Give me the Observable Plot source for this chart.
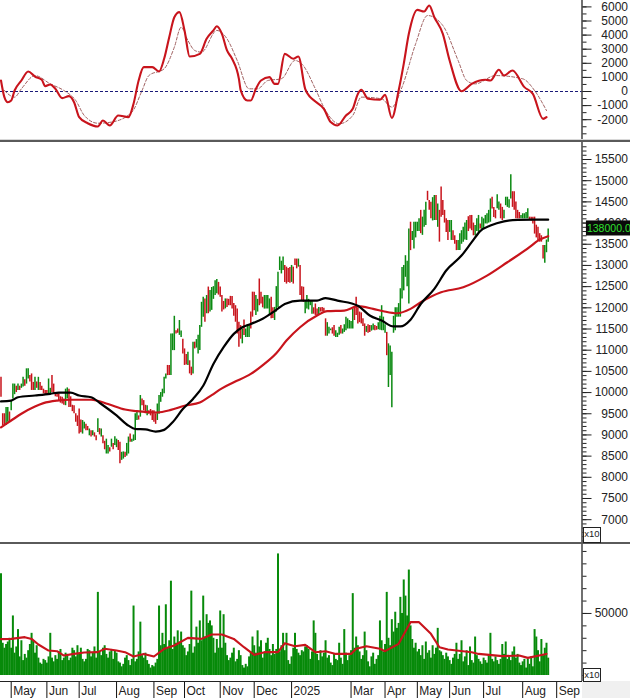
<!DOCTYPE html>
<html>
<head>
<meta charset="utf-8">
<script src="https://cdn.jsdelivr.net/npm/d3@7"></script>
<script src="https://cdn.jsdelivr.net/npm/@observablehq/plot@0.6"></script>
<style>
html,body{margin:0;padding:0;background:#fff;overflow:hidden}
#chart{position:relative;width:630px;height:698px;background:#fff;font-family:"Liberation Sans",Arial,sans-serif;overflow:hidden}
#chart svg{position:absolute;left:0;display:block;overflow:visible;background:transparent}
.sep{position:absolute;left:0;width:630px;background:#5a5a5a}
.x10{position:absolute;box-sizing:border-box;border:1px solid #222;background:#fff;font-size:9.5px;line-height:12px;text-align:center;color:#222}
#corner{position:absolute;left:582px;top:681px;width:48px;height:17px;background:#f0f0f0}
</style>
</head>
<body>
<div id="chart"></div>
<script>
const dirs = ("RRRGGRGGGR GRGGRGGRRR GRGRRRRRGG RRRRRRRRGG RRRRRRRRGG RRGRGRRGRG RRGGRGRGGR RGGRGGRGGG GRGRRRGRRR RRGGGGGGRR " +
"GGGRRGGRRR GRRGRGGGGG RGRGGGGGRR RRGRRRRRRR RRGRGGGRRR GGRRRGGGGR RGGGGGGRRR RGRRRGRRRG GGGGRRRGRR RRGGGRRGGG " +
"RGGGGGGGRR RRRRRGRRGG RRGGGGGRGG GGGGGGGGGG GRGGGGGRGG GRRRGGRGRR RRRRGGRRRG GGGGGRRRRG GGRGGGGGGR RRGGRRGGGG " +
"GRRRRRGGGG GRRRRRRRRR GGG").replace(/ /g,"").split("");
const highs = [10360,9500,9500,9650,9650,9540,9810,10200,10200,10150,
10200,10150,10200,10360,10300,10560,10560,10400,10440,10240,
10360,10250,10360,10240,10150,10080,10050,10050,10320,10100,
10400,10200,10000,10000,9970,9900,9890,9850,10080,10110,
10080,9900,9700,9690,9500,9450,9610,9350,9340,9300,
9250,9200,9140,9100,9100,9050,8980,9380,9150,9140,
8980,8850,8900,8750,8700,8900,8800,8960,8900,8870,
8830,8590,8600,8590,8800,8950,9020,8900,9000,9500,
9530,9450,9930,9850,9810,9700,9690,9570,9600,9570,
9570,9500,9730,9930,10000,10080,10360,10440,10640,10640,
11385,11385,11800,11460,11500,11700,11450,11260,11030,10900,
10950,10750,10600,11190,11190,11250,11350,11580,12130,12250,
12210,12290,12490,12410,12480,12500,12640,12670,12600,12490,
12290,12150,12210,12210,12200,12270,12270,12100,12050,11975,
11660,11580,11500,11715,11500,11600,11580,11900,12370,12370,
12290,12200,12680,12370,12250,12290,12290,12290,12210,12250,
12000,12010,12500,12840,13200,13100,13200,13000,12960,12930,
12950,13000,12960,13150,13150,13150,13000,12500,12486,12170,
12290,12200,12170,12170,12000,12090,11970,12010,12000,12010,
11990,11740,11650,11540,11500,11530,11580,11460,11400,11540,
11580,11500,11600,11780,11740,11700,11680,11970,12000,12250,
12000,11900,11880,11740,11620,11560,11600,11580,11580,11620,
11580,11560,11650,11800,12050,11780,11600,11420,11150,11100,
10950,11800,12000,12000,12100,12450,12950,13000,13230,13100,
13860,14020,13800,14020,14020,14020,14100,14300,14140,14300,
14490,14750,14530,14490,14600,14650,14650,14450,14300,14850,
14530,14300,14100,14060,14060,14060,13820,13700,13590,13590,
13750,13820,13900,14000,14060,14150,14180,14180,14000,13940,
14100,14180,13980,14140,14100,14180,14220,14300,14570,14610,
14370,14300,14670,14500,14450,14370,14300,14610,14610,14550,
15140,14740,14740,14500,14300,14250,14180,14220,14220,14250,
14335,14140,14140,14140,14140,13950,13900,13750,13700,13470,
13470,13600,13860];
const lows = [9890,9220,9220,9220,9300,9300,9570,9850,9950,10000,
10050,10050,10100,10130,10150,10200,10320,10250,10050,10050,
10050,10100,10050,10050,10050,9970,9950,9950,9970,9970,
10000,9970,9900,9890,9810,9750,9730,9700,9690,9850,
9650,9650,9550,9500,9300,9200,9020,9050,9020,9140,
9100,9100,8980,8950,8980,8950,8860,9060,9000,8950,
8790,8650,8550,8550,8600,8710,8650,8750,8700,8630,
8320,8400,8430,8470,8500,8550,8830,8830,8850,8870,
9340,9350,9420,9690,9570,9500,9450,9490,9450,9340,
9300,9250,9340,9490,9770,9890,9970,10320,10400,10400,
10400,10990,10990,11385,11400,11350,11300,10910,10640,10650,
10640,10440,10400,10440,11030,11050,10910,10990,11540,11780,
11660,11860,11860,11900,11940,12200,12290,12330,12300,12250,
11900,11950,11975,12010,12050,12050,11975,11800,11660,11385,
11070,11260,11150,11345,11300,11300,11300,11500,11780,11930,
11820,11900,12050,12090,12000,11970,11970,11970,11820,11740,
11750,11700,11900,12010,12880,12800,12880,12600,12560,12600,
12580,12600,12560,13000,12920,12960,12290,12150,12130,11860,
11970,11950,12050,11850,11850,11820,11820,11820,11900,11900,
11890,11330,11330,11380,11460,11380,11330,11300,11300,11350,
11380,11380,11420,11460,11500,11500,11500,11500,11700,11820,
11620,11650,11620,11560,11330,11420,11400,11420,11450,11470,
11460,11470,11480,11470,11460,11460,11400,10870,10120,10400,
9640,11400,11460,11780,11780,11780,12210,12400,12720,12500,
12090,13350,13590,13390,13650,13800,13800,13750,13710,13900,
13940,14530,14300,14100,14050,14060,14060,13900,13550,14140,
14180,14000,13780,13590,13780,13590,13590,13500,13350,13350,
13350,13500,13550,13600,13590,13800,13860,13820,13700,13700,
13800,13780,13860,13820,13850,13980,13980,14000,14020,14330,
14130,14100,14335,14300,14100,14060,14100,14410,14370,14350,
14570,14370,14300,14100,14100,14100,14100,14100,14100,14100,
14100,14060,14050,13980,13740,13650,13590,13550,13550,13150,
13050,13300,13550];
const volumesK = [82,26,22,25,27,30,22,48,18,23,
37,15,28,12,17,14,20,25,34,28,
18,24,14,10,9,13,12,10,15,34,
14,11,16,13,19,21,12,14,18,17,
12,14,22,20,15,24,17,22,13,11,
13,21,20,15,18,23,14,67,19,16,
22,24,17,14,19,21,13,20,18,11,
10,7,9,14,16,12,8,13,56,11,
13,19,43,16,14,18,12,9,6,8,
7,10,13,56,24,34,25,57,22,28,
76,21,31,26,36,27,35,24,22,16,
19,25,68,18,23,39,26,44,28,64,
31,49,42,44,40,30,18,29,22,52,
22,49,26,16,12,14,18,22,11,13,
20,16,8,6,9,7,15,19,31,24,
18,36,23,28,14,18,26,30,21,16,
25,17,21,98,19,24,34,20,34,12,
9,15,22,34,21,18,16,20,19,23,
24,21,13,19,44,34,17,12,20,15,
18,28,14,16,10,8,17,13,12,26,
14,9,37,18,12,16,20,66,22,31,
24,19,13,16,35,20,11,7,15,18,
9,13,16,44,28,19,25,67,30,24,
45,35,51,38,42,63,50,77,64,48,
85,40,29,22,26,19,21,16,24,13,
27,18,20,14,24,17,22,38,20,19,
16,13,18,15,12,9,14,17,26,13,
17,28,11,15,20,8,23,12,10,31,
16,13,11,9,14,12,10,16,34,13,
11,15,12,9,13,25,17,27,13,15,
12,19,23,14,17,10,8,11,13,6,
13,9,15,7,37,31,20,11,29,16,
22,26,14];
const macdIdx = [0,2,4,6,8,12,16,20,24,26,29,32,36,40,43,46,51,57,60,64,69,75,78,81,84,89,93,96,99,102,105,108,111,117,121,125,127,130,133,136,140,141,145,147,150,153,158,161,163,167,172,175,179,182,185,190,194,198,203,207,210,212,216,223,226,230,234,237,240,245,249,252,255,260,264,271,277,285,288,293,296,301,308,313,319,321];
const macdVal = [780,-400,-760,-640,70,780,1420,1060,830,380,500,190,-470,-330,-760,-1820,-2250,-2480,-2060,-2410,-1700,-1820,-870,780,1730,1730,1420,2320,3850,5270,5630,4330,2480,2670,3740,4330,4630,4090,2910,2320,900,120,-640,-640,190,780,1020,540,540,2670,2320,2480,190,-400,-710,-1230,-2170,-2410,-1700,-1230,-170,120,-520,-590,-240,-1870,70,1960,4090,5790,5670,6100,5270,4090,2200,20,540,830,780,1540,1130,1490,310,-170,-1940,-1820];
const signalIdx = [2,8,12,20,29,37,44,49,57,65,77,83,87,96,102,106,110,114,118,127,133,139,146,151,157,165,173,177,185,191,199,207,212,224,230,236,244,251,260,269,274,279,291,307,314,321];
const signalVal = [70,-400,190,1130,540,70,-640,-1700,-2250,-2170,-1470,70,1130,1610,3140,4560,3620,2910,2790,4330,3740,2200,190,190,780,900,2200,1960,190,-1350,-2290,-1700,-400,-520,-1110,310,3380,5390,4680,2200,780,540,1130,900,70,-1350];
const blackIdx = [0,6,10,20,29,34,41,46,53,59,68,75,79,85,91,96,101,107,113,119,125,131,137,142,147,154,162,167,176,186,191,198,210,217,224,231,235,241,247,255,262,271,277,282,288,296,304,313,322];
const blackVal = [9790,9810,9890,9930,9970,10000,10000,9930,9890,9730,9460,9220,9140,9130,9080,9120,9300,9610,9850,10160,10676,11070,11385,11540,11620,11740,11950,12090,12170,12170,12230,12170,12050,11820,11700,11560,11560,11720,12090,12446,12880,13233,13550,13810,13940,14040,14075,14080,14080];
const redIdx = [0,6,12,20,25,33,41,53,63,73,80,92,100,108,117,124,130,137,147,155,162,168,176,186,192,202,210,219,225,233,241,247,259,272,286,298,311,316,322];
const redVal = [9180,9340,9500,9670,9750,9810,9830,9830,9730,9600,9560,9530,9590,9690,9765,9940,10100,10243,10440,10676,10928,11227,11542,11817,11920,11935,12038,11975,11920,11872,11975,12131,12367,12485,12760,13076,13430,13587,13690];
const volMaIdx = [0,6,14,18,22,28,33,37,43,49,57,61,68,73,78,84,90,96,102,110,118,124,130,137,143,149,155,163,167,173,179,185,191,197,206,209,215,223,226,234,241,246,253,258,263,277,281,295,305,310,321];
const volMaVal = [29.3,29.5,30.9,29.5,25,20.1,19.6,16.1,17.4,18.5,18.8,21.5,20.1,18.8,15.3,17.4,15.3,21.5,24.2,30.3,29.5,33,33,29.5,22.8,16.6,18.8,18.8,26,23.6,24.7,18.8,19.6,17.4,17.4,21.5,23.6,21.5,19.6,25.5,43,43,33.6,22.8,20.9,18.8,17.4,15.6,16.1,14.2,17.4];
const monthIdx = [6,27,46,68,90,108,129,149,171,206,226,245,264,284,307,327];
const monthLabels = ["May","Jun","Jul","Aug","Sep","Oct","Nov","Dec","2025","Mar","Apr","May","Jun","Jul","Aug","Sep"];
const macdTicks = [6000,5000,4000,3000,2000,1000,0,-1000,-2000];
const priceTicks = [15500,15000,14500,14000,13500,13000,12500,12000,11500,11000,10500,10000,9500,9000,8500,8000,7500,7000];
const volTicks = [50];
const lastCloseLabel = "138000.0";
const lastCloseY = 13800;

const xDomain = [-0.29, 341.9];
const green = "#0b8a12", red = "#c8141c", volGreen = "#078a0a";
const FONT = '"Liberation Sans",Arial,sans-serif';
const chart = document.getElementById("chart");
const idx = d3.range(highs.length);
const pairs = (a,b) => a.map((x,i)=>({x, y:b[i]}));

function panel(top, height, yDomain, marks){
  const svg = Plot.plot({
    width:630, height, marginLeft:0, marginRight:48.5, marginTop:0, marginBottom:0,
    style:{fontFamily:FONT, fontSize:"12px", color:"#222", background:"transparent", overflow:"visible"},
    x:{domain:xDomain, axis:null},
    y:{domain:yDomain, axis:null},
    marks
  });
  svg.style.top = top+"px";
  chart.appendChild(svg);
}
function rightAxis(major, minor, fmt){
  return [
    Plot.ruleX([xDomain[1]],{stroke:"#111",strokeWidth:1.2}),
    Plot.axisY(minor,{anchor:"right",tickSize:4,tickFormat:()=>"",stroke:"#222",label:null}),
    Plot.axisY(major,{anchor:"right",tickSize:9,tickPadding:37,textAnchor:"end",tickFormat:fmt,fontSize:12,fill:"#222",stroke:"#222",label:null})
  ];
}

// MACD panel
panel(0,140,[-3475,6454],[
  Plot.ruleY([0],{stroke:"#1a1a78",strokeWidth:1,strokeDasharray:"3,2"}),
  Plot.line(pairs(signalIdx,signalVal),{x:"x",y:"y",stroke:"#a06060",strokeWidth:1,strokeDasharray:"3,2",curve:"monotone-x"}),
  Plot.line(pairs(macdIdx,macdVal),{x:"x",y:"y",stroke:red,strokeWidth:2.1,curve:"monotone-x"}),
  ...rightAxis(macdTicks,d3.range(-3000,6500,500),d=>String(d))
]);

// price panel
panel(141,402,[6438,15925],[
  Plot.ruleX(idx.filter(i=>dirs[i]==="G"),{x:i=>i,y1:i=>lows[i],y2:i=>highs[i],stroke:green,strokeWidth:1.5}),
  Plot.ruleX(idx.filter(i=>dirs[i]==="R"),{x:i=>i,y1:i=>lows[i],y2:i=>highs[i],stroke:red,strokeWidth:1.5}),
  Plot.line(pairs(redIdx,redVal),{x:"x",y:"y",stroke:red,strokeWidth:2.2,curve:"monotone-x"}),
  Plot.line(pairs(blackIdx,blackVal),{x:"x",y:"y",stroke:"#000",strokeWidth:2.2,curve:"monotone-x"}),
  ...rightAxis(priceTicks,d3.range(6500,15900,100),d=>String(d)),
  Plot.rect([lastCloseY],{x1:344.5,x2:372,y1:d=>d-105,y2:d=>d+250,fill:"#0a0a0a"}),
  Plot.text([lastCloseLabel],{x:344.8,y:lastCloseY,dy:-3,text:d=>d,textAnchor:"start",fill:"#2fe02f",fontSize:10.5})
]);

// volume panel
panel(543,138,[-4.84,106.4],[
  Plot.ruleX(idx,{x:i=>i,y1:0,y2:i=>volumesK[i],stroke:volGreen,strokeWidth:2}),
  Plot.line(pairs(volMaIdx,volMaVal),{x:"x",y:"y",stroke:red,strokeWidth:2.1}),
  ...rightAxis(volTicks,d3.range(0,101,10),d=>String(d*1000))
]);

// month strip
{
  const svg = Plot.plot({
    width:630,height:17,marginLeft:0,marginRight:48.5,marginTop:0,marginBottom:0,
    style:{fontFamily:FONT,fontSize:"12px",background:"transparent",overflow:"visible"},
    x:{domain:xDomain,axis:null},
    y:{domain:[0,1],axis:null},
    marks:[
      Plot.ruleX(monthIdx,{stroke:"#111",strokeWidth:1}),
      Plot.text(monthIdx,{x:d=>d,y:0.45,text:(d,i)=>monthLabels[i],textAnchor:"start",dx:2,fill:"#222",fontSize:12})
    ]
  });
  svg.style.top="681px";
  chart.appendChild(svg);
}

// panel furniture
[[139,1,"#d8d8d8"],[140,2,"#5a5a5a"],[542,2,"#5a5a5a"],[680.5,1,"#222"]].forEach(([t,h,c])=>{
  const d=document.createElement("div");d.className="sep";
  d.style.top=t+"px";d.style.height=h+"px";d.style.background=c;chart.appendChild(d);
});
const corner=document.createElement("div");corner.id="corner";chart.appendChild(corner);
[[527,16],[668,14]].forEach(([t,h])=>{
  const d=document.createElement("div");d.className="x10";d.textContent="x10";
  d.style.left="583px";d.style.top=t+"px";d.style.width="18px";d.style.height=h+"px";chart.appendChild(d);
});
</script>
</body>
</html>
